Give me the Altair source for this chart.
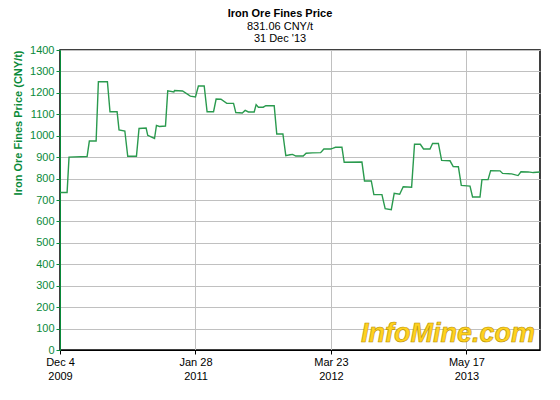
import altair as alt
import pandas as pd

dates = ["2009-12-04","2009-12-26","2010-01-01","2010-02-26","2010-03-05","2010-03-26","2010-04-02","2010-04-30","2010-05-08","2010-05-30",
         "2010-06-05","2010-06-23","2010-07-02","2010-07-29","2010-08-06","2010-08-28","2010-09-02","2010-09-23","2010-09-29","2010-10-08",
         "2010-10-27","2010-11-03","2010-11-22","2010-11-24","2010-12-19","2011-01-12","2011-01-28","2011-02-06","2011-02-24","2011-03-05",
         "2011-03-25","2011-04-02","2011-04-17","2011-05-05","2011-05-26","2011-06-02","2011-06-22","2011-07-01","2011-07-11","2011-07-29",
         "2011-08-04","2011-08-11","2011-08-26","2011-09-03","2011-09-29","2011-10-07","2011-10-26","2011-11-04","2011-11-17","2011-11-25",
         "2011-12-05","2011-12-28","2012-01-06","2012-01-25","2012-02-20","2012-03-01","2012-03-22","2012-03-30","2012-04-06","2012-04-26",
         "2012-05-03","2012-06-27","2012-07-05","2012-07-26","2012-08-03","2012-08-28","2012-09-07","2012-09-26","2012-10-05","2012-10-22",
         "2012-11-02","2012-11-28","2012-12-07","2012-12-25","2013-01-04","2013-01-24","2013-02-01","2013-02-19","2013-03-01","2013-03-27",
         "2013-04-06","2013-04-22","2013-05-01","2013-05-28","2013-06-05","2013-06-28","2013-07-04","2013-07-23","2013-07-31","2013-08-29",
         "2013-09-06","2013-10-04","2013-10-24","2013-11-02","2013-11-24","2013-12-10","2013-12-31"]

prices = [735,735,900,903,975,975,1252,1252,1112,1112,
          1027,1022,904,904,1034,1036,1002,987,1048,1043,
          1045,1209,1204,1211,1209,1185,1181,1232,1232,1112,
          1112,1171,1170,1151,1151,1108,1106,1118,1111,1111,
          1145,1133,1133,1140,1140,1008,1008,907,911,913,
          905,905,918,920,921,938,938,942,946,946,
          876,877,789,789,725,725,660,655,731,727,
          762,760,960,960,938,938,964,964,885,883,
          856,855,768,765,714,714,795,795,837,836,
          824,822,814,832,831,828,831]

tick_dates = [(2009, 12, 4), (2011, 1, 28), (2012, 3, 23), (2013, 5, 17)]
y_ticks = list(range(0, 1401, 100))

title_text = "Iron Ore Fines Price"
subtitle_lines = ["831.06 CNY/t", "31 Dec '13"]
y_title = "Iron Ore Fines Price (CNY/t)"
logo_text = ["InfoMine.com"]

FONT = "Liberation Sans"
GREEN = "#0a8a3a"
LINE = "#2a9a4e"

df = pd.DataFrame({"date": dates, "price": prices})

tick_values = [alt.DateTime(year=y, month=m, date=d, utc=True) for (y, m, d) in tick_dates]

line = alt.Chart(df).mark_line(color=LINE, strokeWidth=1.4).encode(
    x=alt.X("date:T",
            scale=alt.Scale(type="utc",
                            domain=[alt.DateTime(year=2009, month=12, date=4, utc=True),
                                    alt.DateTime(year=2013, month=12, date=31, utc=True)]),
            axis=alt.Axis(values=tick_values, title=None,
                          labelExpr="[utcFormat(datum.value, '%b %-d'), utcFormat(datum.value, '%Y')]",
                          labelFont=FONT, labelFontSize=11, labelColor="#000000",
                          labelLineHeight=14, labelPadding=2, labelFlush=False,
                          domainColor="#000000", tickColor="#000000", tickSize=4,
                          grid=True, gridColor="#c0c0c0", gridWidth=1)),
    y=alt.Y("price:Q",
            scale=alt.Scale(domain=[0, 1400], nice=False),
            axis=alt.Axis(values=y_ticks, title=y_title, format="d",
                          titleFont=FONT, titleFontSize=11, titleFontWeight="bold",
                          titleColor=GREEN, titlePadding=6, titleAnchor="end",
                          labelFont=FONT, labelFontSize=11, labelColor=GREEN, labelPadding=2,
                          domainColor=GREEN, tickColor=GREEN, tickSize=4,
                          grid=True, gridColor="#c0c0c0", gridWidth=1)),
)

logo = alt.Chart(pd.DataFrame({"t": logo_text})).mark_text(
    font=FONT, fontSize=27, fontWeight="bold", fontStyle="italic",
    color="#ffd21f", stroke="#b89000", strokeWidth=0.6, align="center", baseline="middle"
).encode(text="t:N", x=alt.value(388), y=alt.value(284))

chart = alt.layer(logo, line).properties(
    width=480, height=300,
    autosize=alt.AutoSizeParams(type="none"),
    padding={"left": 52, "top": 42, "right": 10, "bottom": 40},
    title=alt.TitleParams(title_text, subtitle=subtitle_lines, anchor="middle", dx=-20,
                          font=FONT, fontSize=11, fontWeight="bold", color="#000000",
                          subtitleFont=FONT, subtitleFontSize=11, subtitleColor="#000000",
                          subtitlePadding=2, subtitleLineHeight=12, offset=0),
).configure_view(stroke="#000000", strokeWidth=1.5)

chart.save("out.html", embed_options={"renderer": "svg", "actions": False})
